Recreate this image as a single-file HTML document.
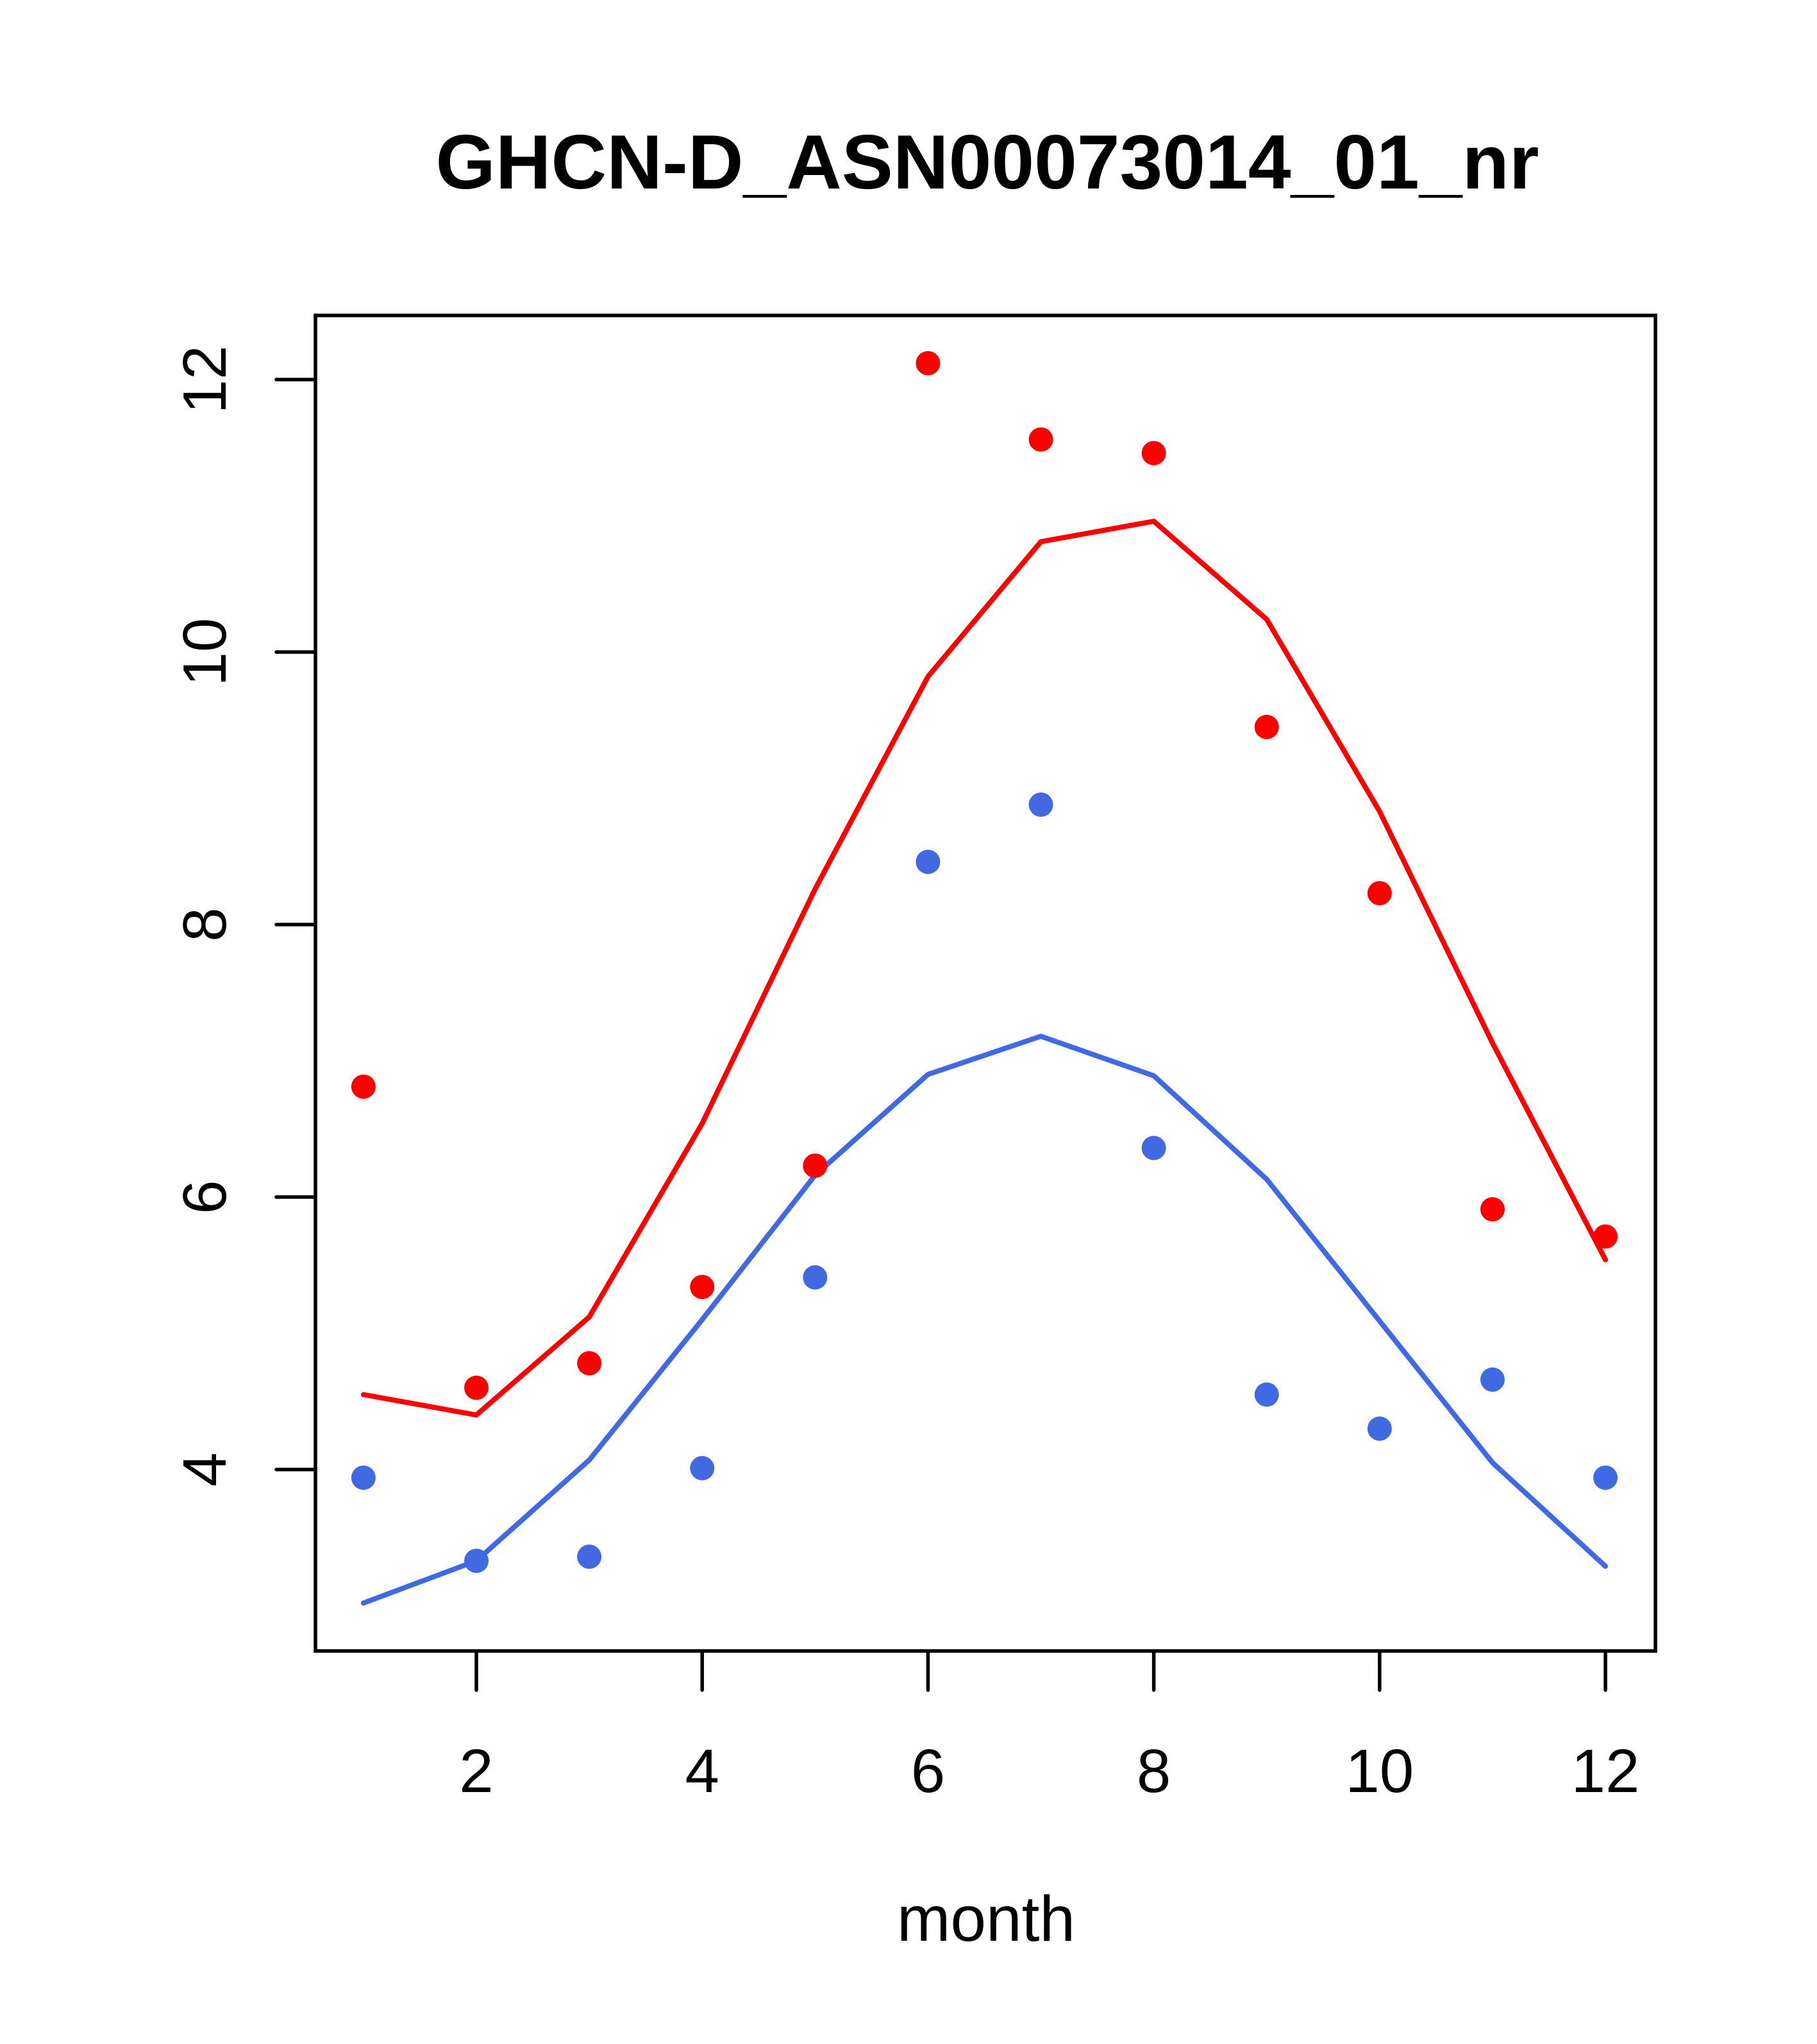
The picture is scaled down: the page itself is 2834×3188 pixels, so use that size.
<!DOCTYPE html>
<html><head><style>body{margin:0;background:#fff}svg{display:block}text{font-family:"Liberation Sans",sans-serif}</style></head>
<body>
<svg id="c" width="2834" height="3188" viewBox="0 0 2834 3188" xmlns="http://www.w3.org/2000/svg">
<rect width="2834" height="3188" fill="#fff"/>
<text x="1540" y="294" font-size="120" font-weight="bold" text-anchor="middle">GHCN-D_ASN00073014_01_nr</text>
<text x="1538" y="3027" font-size="100" text-anchor="middle">month</text>
<g id="g"></g>
<rect x="492" y="492" width="2090" height="2083" fill="none" stroke="#000" stroke-width="5.5"/>
</svg>
<script>
const months=[1,2,3,4,5,6,7,8,9,10,11,12];
const redPoints=[6.81,4.60,4.78,5.34,6.23,12.12,11.56,11.46,9.45,8.23,5.91,5.71];
const redLine=[4.55,4.40,5.12,6.54,8.26,9.82,10.81,10.96,10.24,8.83,7.13,5.54];
const bluePoints=[3.94,3.33,3.36,4.01,5.41,8.46,8.88,6.36,4.55,4.30,4.66,3.94];
const blueLine=[3.02,3.33,4.07,5.10,6.16,6.90,7.18,6.89,6.13,5.09,4.05,3.29];
const xTicks=[2,4,6,8,10,12];
const yTicks=[4,6,8,10,12];
const NS="http://www.w3.org/2000/svg";
const g=document.getElementById('g');
function X(m){return 743+(m-2)*176.1;}
function Y(v){return 592+(12-v)*212.5;}
function mk(t,a){const e=document.createElementNS(NS,t);for(const k in a)e.setAttribute(k,a[k]);g.appendChild(e);return e;}
xTicks.forEach(t=>{
 const l=mk('line',{x1:X(t),x2:X(t),y1:2575,y2:2636,stroke:'#000','stroke-width':5.5,'stroke-linecap':'round'});
 
 
 const tx=mk('text',{x:X(t),y:2795,'font-size':96,'text-anchor':'middle'});tx.textContent=t;
 
 
});
yTicks.forEach(t=>{
 const l=mk('line',{x1:431,x2:492,y1:Y(t),y2:Y(t),stroke:'#000','stroke-width':5.5,'stroke-linecap':'round'});
 
 
 const tx=mk('text',{x:352,y:Y(t),'font-size':96,'text-anchor':'middle',transform:`rotate(-90 352 ${Y(t)})`});tx.textContent=t;
 
 
});
function line(vals,col,name){
 const p=mk('polyline',{points:vals.map((v,i)=>X(months[i])+','+Y(v)).join(' '),fill:'none',stroke:col,'stroke-width':8,'stroke-linecap':'round','stroke-linejoin':'round'});
 
 
}
function pts(vals,col,name){
 vals.forEach((v,i)=>{const c=mk('circle',{cx:X(months[i]),cy:Y(v),r:19,fill:col});
 
 });
}
line(redLine,'#ff0000','red-line');
line(blueLine,'#4169e1','blue-line');
pts(redPoints,'#ff0000','red-point');
pts(bluePoints,'#4169e1','blue-point');
</script>
</body></html>
